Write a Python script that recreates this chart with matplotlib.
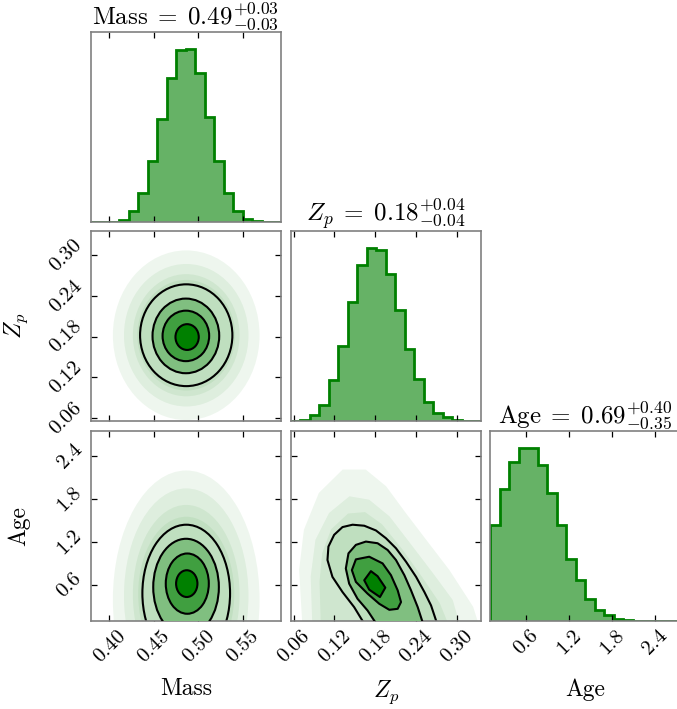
import numpy as np
import matplotlib
matplotlib.use("Agg")
from matplotlib import pyplot as plt
from matplotlib.patches import Ellipse, Polygon

plt.rcParams["font.family"] = "serif"
plt.rcParams["font.serif"] = ["cmr10", "DejaVu Serif"]
plt.rcParams["mathtext.fontset"] = "cm"
plt.rcParams["axes.formatter.use_mathtext"] = True

# axis ranges
mass_range = [0.379, 0.593]
zp_range = [0.0556, 0.3356]
age_range = [0.102, 2.75]

mass_ticks = [0.40, 0.45, 0.50, 0.55]
zp_ticks = [0.06, 0.12, 0.18, 0.24, 0.30]
age_ticks = [0.6, 1.2, 1.8, 2.4]

# 1D histogram heights (20 bins over each range)
mass_counts = [0, 0.5, 1, 6, 33, 85, 182, 305, 427, 511, 513, 441, 313, 181, 87, 33, 8, 2, 0.5, 0]
zp_counts = [1, 4, 17, 49, 122, 224, 355, 464, 515, 511, 437, 332, 214, 126, 57, 23, 11, 4, 1, 0]
age_counts = [288, 393, 476, 516, 516, 466, 382, 287, 186, 124, 67, 33, 17, 7, 3, 1.5, 1, 0.5, 0.3, 0.2]

titles = [r"$\mathrm{Mass}\;=\;0.49^{+0.03}_{-0.03}$",
          r"$Z_p\;=\;0.18^{+0.04}_{-0.04}$",
          r"$\mathrm{Age}\;=\;0.69^{+0.40}_{-0.35}$"]
labels = ["Mass", r"$Z_p$", "Age"]

# Mass - Zp contours (ellipses, outer to inner)
mz_cx = [0.4864, 0.486, 0.486, 0.4874]
mz_cy = [0.182, 0.181, 0.181, 0.1793]
mz_w = [0.1038, 0.075, 0.0524, 0.0262]
mz_h = [0.150, 0.110, 0.0744, 0.038]
# Mass - Zp point cloud extent
mz_haze_w = [0.165, 0.14, 0.12, 0.11]
mz_haze_h = [0.25, 0.21, 0.18, 0.163]

# Mass - Age contours (ellipses, outer to inner, clipped by axis bottom)
ma_cx = [0.4864, 0.4862, 0.4876, 0.487]
ma_cy = [0.488, 0.574, 0.623, 0.623]
ma_w = [0.0986, 0.0738, 0.0484, 0.024]
ma_h = [1.912, 1.348, 0.84, 0.373]
ma_haze_cy = [0.4, 0.45, 0.47, 0.48]
ma_haze_w = [0.165, 0.14, 0.12, 0.108]
ma_haze_h = [3.6, 3.0, 2.5, 2.15]

# Zp - Age contours (outlines, outer to inner)
za_zp = [
    [0.168, 0.149, 0.1318, 0.117, 0.1097, 0.1111, 0.1195, 0.1318, 0.1466, 0.1638, 0.181,
     0.1957, 0.2105, 0.2253, 0.2401, 0.2523, 0.2621, 0.2695, 0.275],
    [0.186, 0.1687, 0.1539, 0.1416, 0.1367, 0.1406, 0.1515, 0.1662, 0.1834, 0.1982,
     0.2105, 0.2228, 0.2326, 0.2425, 0.2489, 0.252],
    [0.1456, 0.1515, 0.1711, 0.1908, 0.2031, 0.213, 0.2179, 0.213, 0.2007, 0.1859, 0.1687, 0.1515],
    [0.1638, 0.1736, 0.1834, 0.1948, 0.1869, 0.1711],
]
za_age = [
    [0.0, 0.295, 0.506, 0.717, 0.952, 1.139, 1.303, 1.411, 1.444, 1.430, 1.364,
     1.256, 1.116, 0.928, 0.717, 0.506, 0.319, 0.108, 0.0],
    [0.0, 0.248, 0.412, 0.623, 0.834, 1.045, 1.163, 1.209, 1.186, 1.092,
     0.952, 0.741, 0.530, 0.295, 0.108, 0.0],
    [0.811, 0.961, 0.998, 0.905, 0.741, 0.530, 0.366, 0.272, 0.258, 0.342, 0.483, 0.647],
    [0.670, 0.797, 0.727, 0.567, 0.436, 0.539],
]
# Zp - Age point cloud extent
za_haze_zp = [
    [0.073, 0.068, 0.075, 0.097, 0.132, 0.166, 0.196, 0.225, 0.255, 0.289, 0.324, 0.334],
    [0.0875, 0.085, 0.092, 0.112, 0.142, 0.171, 0.201, 0.235, 0.265, 0.294, 0.306],
    [0.1, 0.098, 0.102, 0.115, 0.14, 0.165, 0.19, 0.22, 0.25, 0.275, 0.29],
]
za_haze_age = [
    [0.0, 0.814, 1.374, 1.887, 2.213, 2.213, 1.980, 1.607, 1.234, 0.814, 0.302, 0.0],
    [0.0, 0.721, 1.234, 1.607, 1.840, 1.793, 1.560, 1.141, 0.768, 0.395, 0.0],
    [0.0, 0.65, 1.05, 1.38, 1.6, 1.62, 1.45, 1.1, 0.7, 0.35, 0.0],
]

green = (0.0, 0.5, 0.0)
level_colors = [tuple(1 - a + a * c for c in green) for a in [0.25, 0.5, 0.75, 1.0]]
spine_color = "#808080"
haze_alpha = 0.065

fig = plt.figure(figsize=(6.77, 7.09), dpi=100)
lefts = [0.134, 0.4294, 0.7238]
bottoms = [0.6869, 0.4062, 0.1241]
size_w, size_h = 0.2811, 0.268

ranges = [mass_range, zp_range, age_range]
ticks = [mass_ticks, zp_ticks, age_ticks]
counts = [mass_counts, zp_counts, age_counts]


def style(ax):
    for s in ax.spines.values():
        s.set_color(spine_color)
        s.set_linewidth(1.2)
    ax.tick_params(direction="in", top=True, right=True, length=4, width=0.9,
                   color="black", labelsize=15, pad=4)


axes = {}
for i in range(3):
    for j in range(i + 1):
        ax = fig.add_axes([lefts[j], bottoms[i], size_w, size_h])
        axes[(i, j)] = ax
        style(ax)
        ax.set_xlim(ranges[j])
        ax.set_xticks(ticks[j])
        if i == j:
            edges = np.linspace(ranges[i][0], ranges[i][1], len(counts[i]) + 1)
            ax.stairs(counts[i], edges, fill=True, color=green, alpha=0.6, lw=0)
            ax.stairs(counts[i], edges, color=green, lw=2.0)
            ax.set_ylim(0, 1.1 * max(counts[i]))
            ax.set_yticks([])
            ax.set_title(titles[i], fontsize=18, pad=6)
        else:
            ax.set_ylim(ranges[i])
            ax.set_yticks(ticks[i])
        if i == 2:
            ax.set_xticklabels([f"{t:.2f}" if j < 2 else f"{t:.1f}" for t in ticks[j]],
                               rotation=45, ha="center", va="top", fontsize=15)
            ax.set_xlabel(labels[j], fontsize=17)
            ax.xaxis.set_label_coords(0.5, -0.3)
        else:
            ax.set_xticklabels([])
        if j == 0 and i > 0:
            ax.set_yticklabels([f"{t:.2f}" if i < 2 else f"{t:.1f}" for t in ticks[i]],
                               rotation=45, ha="right", va="center", fontsize=15)
            ax.set_ylabel(labels[i], fontsize=17)
            ax.yaxis.set_label_coords(-0.32, 0.5)
        elif i != j:
            ax.set_yticklabels([])

# Mass - Zp
ax = axes[(1, 0)]
for w, h in zip(mz_haze_w, mz_haze_h):
    ax.add_patch(Ellipse((mz_cx[0], mz_cy[0]), w, h, facecolor=green, alpha=haze_alpha, lw=0, zorder=1))
for k in range(4):
    ax.add_patch(Ellipse((mz_cx[k], mz_cy[k]), mz_w[k], mz_h[k], facecolor=level_colors[k],
                         edgecolor="black", lw=1.5, zorder=2 + k))

# Mass - Age
ax = axes[(2, 0)]
for cy, w, h in zip(ma_haze_cy, ma_haze_w, ma_haze_h):
    ax.add_patch(Ellipse((ma_cx[0], cy), w, h, facecolor=green, alpha=haze_alpha, lw=0, zorder=1))
for k in range(4):
    ax.add_patch(Ellipse((ma_cx[k], ma_cy[k]), ma_w[k], ma_h[k], facecolor=level_colors[k],
                         edgecolor="black", lw=1.5, zorder=2 + k))

# Zp - Age
ax = axes[(2, 1)]
for zs, ages in zip(za_haze_zp, za_haze_age):
    ax.add_patch(Polygon(np.column_stack([zs, ages]), closed=True, facecolor=green,
                         alpha=haze_alpha, lw=0, zorder=1))
for k in range(4):
    ax.add_patch(Polygon(np.column_stack([za_zp[k], za_age[k]]), closed=True,
                         facecolor=level_colors[k], edgecolor="black", lw=1.5,
                         joinstyle="round", zorder=2 + k))

fig.savefig("out.png", dpi=100)
